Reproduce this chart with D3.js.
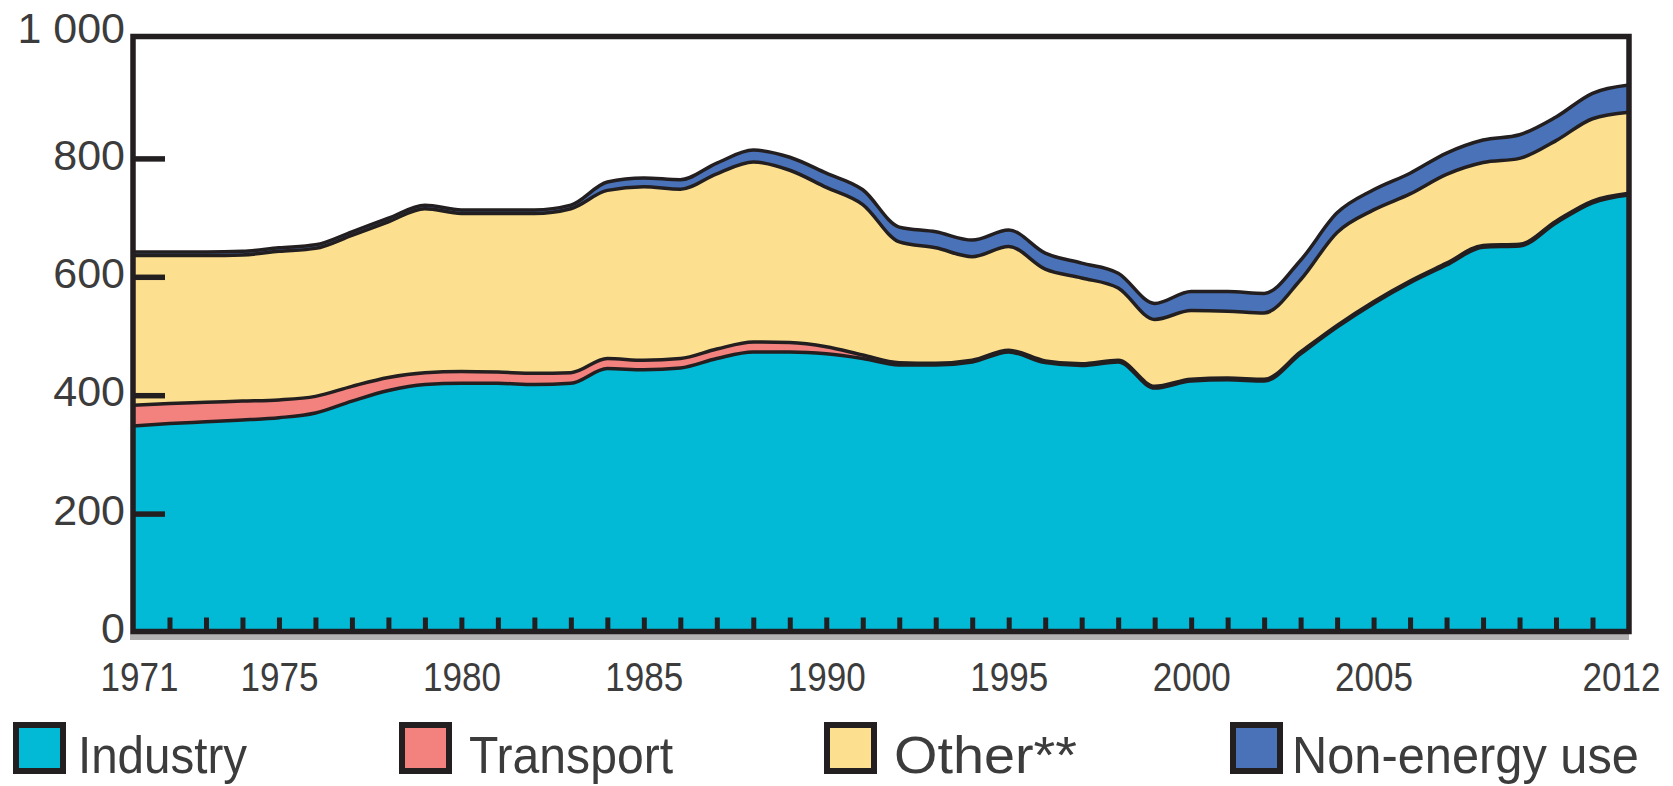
<!DOCTYPE html>
<html>
<head>
<meta charset="utf-8">
<script src="https://cdn.jsdelivr.net/npm/d3@7"></script>
<style>
  body { margin: 0; background: #fff; }
  text { font-family: "Liberation Sans", Arial, sans-serif; fill: #3c3c3c; }
</style>
</head>
<body>
<div id="chart"></div>
<script>
// years on the x axis
var years = [1971,1972,1973,1974,1975,1976,1977,1978,1979,1980,
  1981,1982,1983,1984,1985,1986,1987,1988,1989,1990,
  1991,1992,1993,1994,1995,1996,1997,1998,1999,2000,
  2001,2002,2003,2004,2005,2006,2007,2008,2009,2010,
  2011,2012]

// series
var industry = [348,352,355,358,362,370,390,408,418,420,
  420,418,420,445,443,446,462,473,473,470,
  462,451,451,456,473,455,450,456,412,424,
  426,424,470,515,555,590,620,650,652,691,
  725,738]
var transport = [35,34,33,32,30,28,25,22,20,20,
  19,19,18,17,16,16,16,17,16,12,
  6,4,3,3,3,3,3,3,3,3,
  3,3,3,3,3,3,3,3,3,3,
  3,3]
var other = [253,250,248,247,251,250,255,263,277,267,
  268,270,277,284,293,286,296,304,291,269,
  254,204,195,175,175,155,145,122,113,116,
  113,112,122,157,155,147,150,140,145,136,
  139,137]
var nonEnergy = [6,6,6,6,6,6,6,6,6,6,
  6,6,6,14,15,16,18,20,22,24,
  25,25,27,28,28,27,25,25,27,32,
  33,33,33,33,34,35,36,38,40,40,
  43,46]

var seriesNames = ["Industry","Transport","Other**","Non-energy use"]
var seriesColors = ["#02b9d6","#f3827e","#fde08f","#4a72b8"]

var yLabelValues = [0,200,400,600,800,1000]
var yTickValues = [200,400,600,800]
var labelYears = [1971,1975,1980,1985,1990,1995,2000,2005,2012]

function drawChart(){

var width = 1673
var height = 786
var pl = 133, pr = 1629, pt = 36.5, pb = 631.5
var dark = "#231f20"

var svg = d3.select("#chart").append("svg")
  .attr("width", width)
  .attr("height", height)

var table = years.map(function(yr, i){
  return {year: yr, a: industry[i], b: transport[i], c: other[i], d: nonEnergy[i]}
})
var stacked = d3.stack().keys(["a","b","c","d"])(table)

var x = d3.scaleLinear().domain([1971, 2012]).range([pl, pr])
var y = d3.scaleLinear().domain([0, 1000]).range([632, 40])

svg.append("clipPath").attr("id","plotclip")
  .append("rect")
  .attr("x", pl).attr("y", pt)
  .attr("width", pr-pl).attr("height", pb-pt)

var g = svg.append("g").attr("clip-path","url(#plotclip)")

var area = d3.area()
  .curve(d3.curveMonotoneX)
  .x(function(d){ return x(d.data.year) })
  .y0(function(d){ return y(d[0]) })
  .y1(function(d){ return y(d[1]) })

var topLine = d3.line()
  .curve(d3.curveMonotoneX)
  .x(function(d){ return x(d.data.year) })
  .y(function(d){ return y(d[1]) })

g.selectAll(".layer")
  .data(stacked)
  .enter().append("path")
  .attr("class","layer")
  .attr("d", area)
  .attr("fill", function(d,i){ return seriesColors[i] })

g.selectAll(".edge")
  .data(stacked)
  .enter().append("path")
  .attr("class","edge")
  .attr("d", topLine)
  .attr("fill","none")
  .attr("stroke", dark)
  .attr("stroke-width", 3.5)
  .attr("stroke-linejoin","round")

// grey shadow under the x axis
svg.append("rect")
  .attr("x", pl-3).attr("y", 634)
  .attr("width", pr-pl+3).attr("height", 6)
  .attr("fill", "#b3b3b3")

// year ticks pointing up from the axis
var xTicks = svg.append("g")
  .attr("transform","translate(0,"+pb+")")
  .call(d3.axisBottom(x).tickValues(years.slice(1, -1)).tickSize(-14).tickFormat(""))
xTicks.select(".domain").remove()
xTicks.selectAll(".tick line").attr("stroke", dark).attr("stroke-width", 5)

var xLabels = svg.append("g")
  .attr("transform","translate(0,"+pb+")")
  .call(d3.axisBottom(x).tickValues(labelYears).tickSize(0).tickFormat(d3.format("d")))
xLabels.select(".domain").remove()
xLabels.selectAll("text")
  .attr("y", 59.5).attr("dy", 0)
  .attr("fill", "#3c3c3c")
  .style("font-size","41px")
  .attr("textLength", 78)
  .attr("lengthAdjust","spacingAndGlyphs")
  .attr("dx", function(d){ return d==1971 ? 6 : (d==2012 ? -8 : 0) })

// value ticks pointing right from the left border
var yTicks = svg.append("g")
  .attr("transform","translate("+pl+",0)")
  .call(d3.axisLeft(y).tickValues(yTickValues).tickSize(-32).tickFormat(""))
yTicks.select(".domain").remove()
yTicks.selectAll(".tick line").attr("stroke", dark).attr("stroke-width", 5.5)

var yLabels = svg.append("g")
  .attr("transform","translate("+pl+",0)")
  .call(d3.axisLeft(y).tickValues(yLabelValues).tickSize(0).tickPadding(8)
    .tickFormat(function(d){ return d==1000 ? "1 000" : d }))
yLabels.select(".domain").remove()
yLabels.selectAll("text")
  .attr("fill", "#3c3c3c")
  .style("font-size","43px")
  .attr("y", function(d){ return d==1000 ? -11 : -3 })

// frame
svg.append("rect")
  .attr("x", pl).attr("y", pt)
  .attr("width", pr-pl).attr("height", pb-pt)
  .attr("fill","none")
  .attr("stroke", dark)
  .attr("stroke-width", 5.5)

// legend
var legendBoxX = [16, 402, 827, 1233]
var legendTextX = [78, 469, 894, 1292]
var legendTextW = [169, 204, 183, 347]

var leg = svg.selectAll(".legend")
  .data(seriesNames)
  .enter().append("g")
  .attr("class","legend")

leg.append("rect")
  .attr("x", function(d,i){ return legendBoxX[i] })
  .attr("y", 725)
  .attr("width", 47).attr("height", 46)
  .attr("fill", function(d,i){ return seriesColors[i] })
  .attr("stroke", dark)
  .attr("stroke-width", 6)

leg.append("text")
  .attr("x", function(d,i){ return legendTextX[i] })
  .attr("y", 773)
  .style("font-size","52px")
  .attr("textLength", function(d,i){ return legendTextW[i] })
  .attr("lengthAdjust","spacingAndGlyphs")
  .text(function(d){ return d })
}

drawChart()
</script>
</body>
</html>
